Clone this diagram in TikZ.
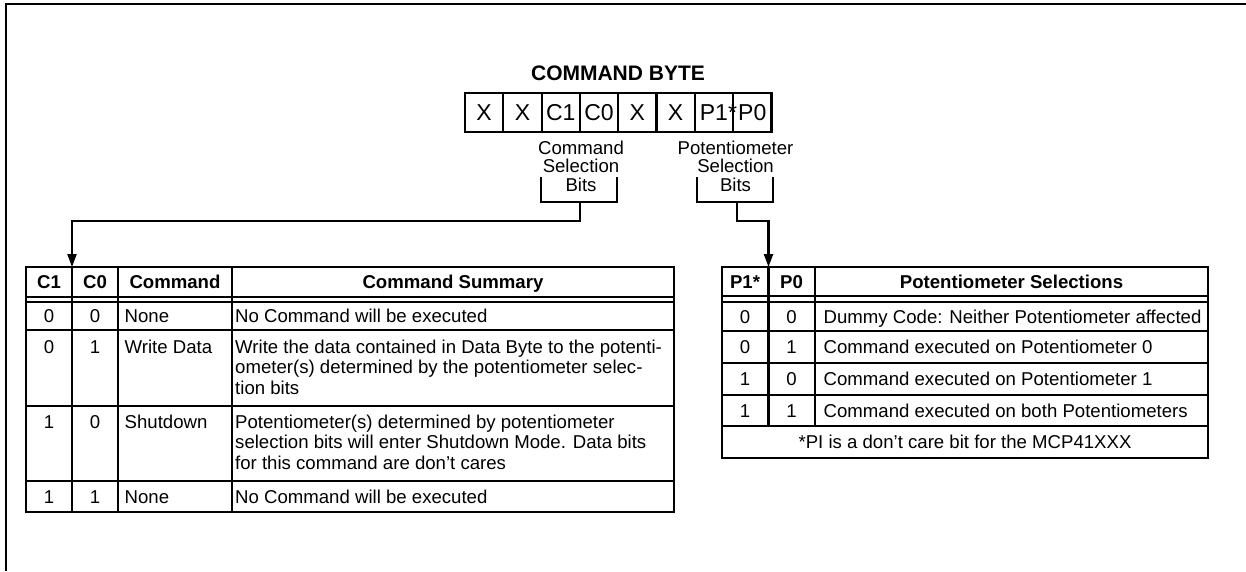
\documentclass[tikz,border=0pt]{standalone}
\usepackage{fontspec}
\setmainfont{Liberation Sans}
\usetikzlibrary{arrows.meta}
\begin{document}
\begin{tikzpicture}[x=1pt,y=-1pt,
  ln/.style={line width=2.2pt},
  frame/.style={line width=2.4pt},
  txt/.style={inner sep=0pt, anchor=base, font=\fontsize{18.6}{21}\selectfont},
  txtl/.style={txt, anchor=base west},
  hdr/.style={inner sep=0pt, anchor=base, font=\fontsize{18.6}{21}\selectfont\bfseries},
  cell/.style={draw, line width=2.2pt, minimum width=38.3pt, minimum height=39pt, inner sep=0pt, font=\fontsize{23}{26}\selectfont},
  lbl/.style={inner sep=0pt, anchor=base, font=\fontsize{18.6}{20}\selectfont},
  arr/.style={line width=2.2pt, -{Triangle[length=13pt,width=9pt]}}
]
\useasboundingbox (0,0) rectangle (1246,571);
\draw[frame] (1246,4) -- (6,4) -- (6,571);

% title and command byte
\node[inner sep=0pt, anchor=base, font=\fontsize{21}{24}\selectfont\bfseries] (title) at (618,80) {COMMAND BYTE};
\foreach \t [count=\i from 0] in {X,X,C1,C0,X,X,{P1\rlap{*}},P0}{
  \node[cell] (b\i) at ({465+38.3*(\i+0.5)},112.5) {\t};
}

% brackets and labels
\node[lbl] (cs1) at (581,154) {Command};
\node[lbl] (cs2) at (581,172.7) {Selection};
\node[lbl] (cs3) at (581,191.7) {Bits};
\node[lbl] (ps1) at (735.5,154) {Potentiometer};
\node[lbl] (ps2) at (735.5,172.7) {Selection};
\node[lbl] (ps3) at (735.5,191.7) {Bits};
\draw[ln] (540.7,177) -- (540.7,202) -- (616.7,202) -- (616.7,177);
\draw[ln] (697.3,177) -- (697.3,202) -- (773.3,202) -- (773.3,177);

\coordinate (lstem) at (580,202);
\coordinate (ltab) at (72,267);
\coordinate (rstem) at (736.7,202);
\coordinate (rtab) at (768.5,267);
\draw[arr] (lstem) -- (580,220.7) -- (72,220.7) -- (ltab);
\draw[arr] (rstem) -- (736.7,220.7) -- (768.5,220.7) -- (rtab);

% left table
\draw[ln] (26,267) rectangle (674,512);
\foreach \yy in {297,302,330,406,481} \draw[ln] (26,\yy) -- (674,\yy);
\foreach \xx in {72,118,232} \draw[ln] (\xx,267) -- (\xx,512);

\node[hdr] (lh1) at (49,288.5) {C1};
\node[hdr] (lh2) at (95,288.5) {C0};
\node[hdr] (lh3) at (175,288.5) {Command};
\node[hdr] (lh4) at (453,288.5) {Command Summary};

\node[txt] (a1) at (49,322.5) {0};
\node[txt] (a2) at (95,322.5) {0};
\node[txtl] (a3) at (124.5,322.5) {None};
\node[txtl] (a4) at (235,322.5) {No Command will be executed};

\node[txt] (w1) at (49,353) {0};
\node[txt] (w2) at (95,353) {1};
\node[txtl] (w3) at (124.5,353) {Write Data};
\node[txtl] (w4) at (235,353) {Write the data contained in Data Byte to the potenti-};
\node[txtl] (w5) at (235,373.5) {ometer(s) determined by the potentiometer selec-};
\node[txtl] (w6) at (235,394) {tion bits};

\node[txt] (s1) at (49,428) {1};
\node[txt] (s2) at (95,428) {0};
\node[txtl] (s3) at (124.5,428) {Shutdown};
\node[txtl] (s4) at (235,428) {Potentiometer(s) determined by potentiometer};
\node[txtl] (s5) at (235,448.5) {selection bits will enter Shutdown Mode. Data bits};
\node[txtl] (s6) at (235,469) {for this command are don’t cares};

\node[txt] (n1) at (49,503) {1};
\node[txt] (n2) at (95,503) {1};
\node[txtl] (n3) at (124.5,503) {None};
\node[txtl] (n4) at (235,503) {No Command will be executed};

% right table
\draw[ln] (722,267) rectangle (1208,458);
\foreach \yy in {296,302,331,363,395,426} \draw[ln] (722,\yy) -- (1208,\yy);
\foreach \xx in {768.5,815} \draw[ln] (\xx,267) -- (\xx,426);

\node[hdr] (rh1) at (745,288) {P1*};
\node[hdr] (rh2) at (791.5,288) {P0};
\node[hdr] (rh3) at (1011.5,288) {Potentiometer Selections};

\node[txt] (r11) at (745,323) {0};
\node[txt] (r12) at (791.5,323) {0};
\node[txtl] (r13) at (823.5,323) {Dummy Code: Neither Potentiometer affected};
\node[txt] (r21) at (745,353.5) {0};
\node[txt] (r22) at (791.5,353.5) {1};
\node[txtl] (r23) at (823.5,353.5) {Command executed on Potentiometer 0};
\node[txt] (r31) at (745,385.5) {1};
\node[txt] (r32) at (791.5,385.5) {0};
\node[txtl] (r33) at (823.5,385.5) {Command executed on Potentiometer 1};
\node[txt] (r41) at (745,417) {1};
\node[txt] (r42) at (791.5,417) {1};
\node[txtl] (r43) at (823.5,417) {Command executed on both Potentiometers};
\node[txt] (foot) at (965,448.5) {*PI is a don’t care bit for the MCP41XXX};
\end{tikzpicture}
\end{document}
